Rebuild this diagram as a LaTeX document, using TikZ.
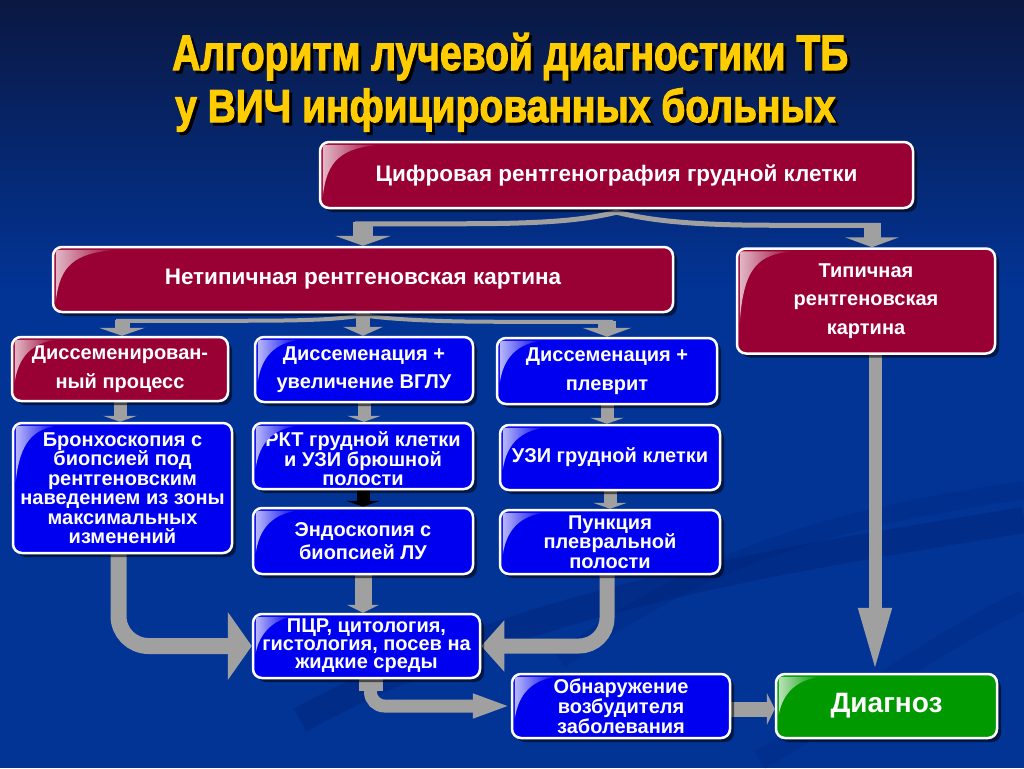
\documentclass[tikz,border=0pt]{standalone}
\usepackage{graphicx}
\usepackage{fontspec}
\setmainfont{Liberation Sans}
\newfontfamily\ttlfont[BoldFeatures={FakeBold=2.5}]{Liberation Sans}
\usetikzlibrary{arrows.meta,calc,shadows}
\definecolor{bgtop}{RGB}{10,24,66}
\definecolor{bgmain}{RGB}{2,52,150}
\definecolor{swoo}{RGB}{0,30,110}
\definecolor{maroonc}{RGB}{153,0,51}
\definecolor{bluec}{RGB}{0,0,240}
\definecolor{greenc}{RGB}{0,153,0}
\definecolor{arrgray}{RGB}{160,160,160}
\definecolor{ttl}{RGB}{255,204,0}
\pgfdeclarelayer{bgl}
\pgfdeclarelayer{arrl}
\pgfsetlayers{bgl,arrl,main}
\tikzset{
  box/.style={draw=white, line width=2.5pt, rounded corners=9pt, text=white, align=center, inner sep=2pt,
    drop shadow={shadow xshift=4pt, shadow yshift=-4pt, draw=none, fill=black, opacity=0.55}},
  mbox/.style={box, fill=maroonc},
  bbox/.style={box, fill=bluec},
  gbox/.style={box, fill=greenc},
  floose/.style={font=\bfseries\fontsize{22.5}{26}\selectfont},
  fmid/.style={font=\bfseries\fontsize{20}{28.5}\selectfont},
  fendo/.style={font=\bfseries\fontsize{20}{23.5}\selectfont},
  ftight/.style={font=\bfseries\fontsize{20}{19.5}\selectfont},
  ftighter/.style={font=\bfseries\fontsize{20}{18}\selectfont},
  fbig/.style={font=\bfseries\fontsize{28}{32}\selectfont},
  garr/.style={draw=arrgray},
  varr/.style={draw=arrgray, line width=13pt, -{Triangle[length=6pt,width=34pt]}},
  ttlstyle/.style={anchor=base west, inner sep=0pt, font=\ttlfont\bfseries},
}
\newcommand\glossy[4]{%
  \shade[left color=white!72!#2, right color=#2]
    ($(#1.north west)+(4,#4)$) -- ($(#1.north west)+(4,11)$)
    .. controls ($(#1.north west)+(4,4)$) .. ($(#1.north west)+(11,4)$)
    -- ($(#1.north west)+(#3,4)$)
    .. controls ($(#1.north west)+(22,7)$) and ($(#1.north west)+(8,20)$) .. ($(#1.north west)+(4,#4)$) -- cycle;}
\newcommand\shadowtext[3]{% width, height, text
  \rlap{\hspace*{3pt}\raisebox{-3pt}{\color{black}\resizebox{#1}{#2}{#3}}}\color{ttl}\resizebox{#1}{#2}{#3}}
\begin{document}
\begin{tikzpicture}[x=1pt,y=-1pt]
\useasboundingbox (0,0) rectangle (1024,768);

% ---------- boxes ----------
\node[mbox, minimum width=593pt, minimum height=66pt, floose] (cif) at (616.5,175) {Цифровая рентгенография грудной клетки};
\node[mbox, minimum width=620pt, minimum height=65pt, floose] (net) at (363,279.5) {Нетипичная рентгеновская картина};
\node[mbox, minimum width=258pt, minimum height=105pt, fmid] (typ) at (866,301) {Типичная\\рентгеновская\\картина};
\node[mbox, minimum width=216pt, minimum height=64pt, fmid] (dis) at (120,369) {Диссеменирован-\\ный процесс};
\node[bbox, minimum width=218pt, minimum height=65pt, fmid] (vglu) at (364,369.5) {Диссеменация +\\увеличение ВГЛУ};
\node[bbox, minimum width=220pt, minimum height=66pt, fmid] (plev) at (607,371) {Диссеменация +\\плеврит};
\node[bbox, minimum width=219pt, minimum height=130pt, ftight] (bron) at (122.5,488) {Бронхоскопия с\\биопсией под\\рентгеновским\\наведением из зоны\\максимальных\\изменений};
\node[bbox, minimum width=220pt, minimum height=66pt, ftight] (rkt) at (363,456) {\rule{0pt}{21pt}РКТ грудной клетки\\и УЗИ брюшной\\полости};
\node[bbox, minimum width=220pt, minimum height=65pt, ftight] (uzi) at (610,457.5) {УЗИ грудной клетки};
\node[bbox, minimum width=220pt, minimum height=66pt, fendo] (endo) at (363,541) {Эндоскопия с\\биопсией ЛУ};
\node[bbox, minimum width=220pt, minimum height=64pt, ftight] (punk) at (610,542) {Пункция\\плевральной\\полости};
\node[bbox, minimum width=227pt, minimum height=64pt, ftighter] (pcr) at (366.5,646) {ПЦР, цитология,\\гистология, посев на\\жидкие среды};
\node[bbox, minimum width=218pt, minimum height=64pt, ftighter] (obn) at (621,706) {Обнаружение\\возбудителя\\заболевания};
\node[gbox, minimum width=221pt, minimum height=64pt, fbig] (diag) at (886.5,706) {Диагноз};

% ---------- gloss ----------
\glossy{cif}{maroonc}{62}{56}
\glossy{net}{maroonc}{66}{56}
\glossy{typ}{maroonc}{58}{75}
\glossy{dis}{maroonc}{46}{46}
\glossy{vglu}{bluec}{46}{46}
\glossy{plev}{bluec}{46}{46}
\glossy{bron}{bluec}{46}{60}
\glossy{rkt}{bluec}{46}{46}
\glossy{uzi}{bluec}{46}{46}
\glossy{endo}{bluec}{46}{46}
\glossy{punk}{bluec}{46}{46}
\glossy{pcr}{bluec}{40}{40}
\glossy{obn}{bluec}{46}{46}
\glossy{diag}{greenc}{46}{42}

% ---------- title ----------
\node[ttlstyle] (title1) at (172,70) {\shadowtext{676pt}{37pt}{Алгоритм лучевой диагностики ТБ}};
\node[ttlstyle] (title2) at (175,122) {\shadowtext{660pt}{34pt}{у ВИЧ инфицированных больных}};

% ---------- background ----------
\begin{pgfonlayer}{bgl}
\fill[bgmain] (0,0) rectangle (1024,768);
\shade[top color=bgtop, bottom color=bgmain] (0,0) rectangle (1024,290);
\draw[swoo, opacity=0.3, line width=26pt] (300,720) .. controls (520,600) and (780,560) .. (1024,520);
\draw[swoo, opacity=0.22, line width=18pt] (560,660) .. controls (700,560) and (820,520) .. (1024,490);
\draw[swoo, opacity=0.22, line width=20pt] (760,760) .. controls (860,700) and (940,640) .. (1024,600);
\end{pgfonlayer}

% ---------- connectors ----------
\begin{pgfonlayer}{arrl}
\coordinate (ta) at ($(net.north)+(0,-24)$);
\coordinate (tb) at ($(typ.north)+(6,-24)$);
\draw[garr, line width=5pt] ($(ta)+(-8,2)$) -- ($(ta)+(100,2)$)
  .. controls ($(ta)+(190,2)$) and ($(cif.south)+(-30,10)$) .. ($(cif.south)+(0,3)$)
  .. controls ($(cif.south)+(30,10)$) and ($(tb)+(-190,2)$) .. ($(tb)+(-100,2)$) -- ($(tb)+(8,2)$);
\draw[garr, line width=20pt, -{Triangle[length=10pt,width=56pt]}] (ta) -- (ta |- net.north);
\draw[garr, line width=17pt, -{Triangle[length=10pt,width=54pt]}] (tb) -- (tb |- typ.north);

\coordinate (sa) at ($(dis.north)+(2,-16)$);
\coordinate (sc) at ($(plev.north)+(0,-16)$);
\draw[garr, line width=4pt] ($(sa)+(-6,1)$) -- ($(sa)+(120,1)$)
  .. controls ($(sa)+(190,1)$) and ($(net.south)+(-25,6)$) .. ($(net.south)+(0,2)$)
  .. controls ($(net.south)+(25,6)$) and ($(sc)+(-170,1)$) .. ($(sc)+(-110,1)$) -- ($(sc)+(6,1)$);
\draw[garr, line width=15pt, -{Triangle[length=8pt,width=46pt]}] (sa) -- (sa |- dis.north);
\draw[garr, line width=14pt, -{Triangle[length=9pt,width=40pt]}] (net.south) -- (net.south |- vglu.north);
\draw[garr, line width=18pt, -{Triangle[length=9pt,width=49pt]}] (sc) -- (sc |- plev.north);

\draw[varr] (dis.south) -- (dis.south |- bron.north);
\draw[varr] (vglu.south) -- (vglu.south |- rkt.north);
\draw[varr, draw=black] (rkt.south) -- (rkt.south |- endo.north);
\draw[varr] (plev.south) -- (plev.south |- uzi.north);
\draw[varr] (uzi.south) -- (uzi.south |- punk.north);
\draw[varr, line width=17pt, -{Triangle[length=8pt,width=32pt]}] (endo.south) -- (endo.south |- pcr.north);

\draw[garr, line width=16pt, rounded corners=30pt, -{Triangle[length=24pt,width=67pt]}]
  ($(bron.south)+(-4,0)$) -- ($(bron.south |- pcr.west)+(-4,0)$) -- (pcr.west);
\draw[garr, line width=15pt, rounded corners=28pt, -{Triangle[length=23pt,width=50pt]}]
  ($(punk.south)+(-3,0)$) -- ($(punk.south |- pcr.east)+(-3,0)$) -- (pcr.east);
\fill[arrgray] ($(pcr.south)+(-8,0)$) rectangle ($(pcr.south)+(16,12)$);
\draw[garr, line width=13pt, rounded corners=14pt, -{Triangle[length=38pt,width=22pt]}]
  ($(pcr.south)+(4,0)$) -- ($(pcr.south |- obn.west)+(4,0)$) -- (obn.west);
\draw[garr, line width=15pt, -{Triangle[length=8pt,width=32pt]}] ($(obn.east)+(0,3)$) -- ($(diag.west)+(0,3)$);
\draw[garr, line width=13pt, -{Triangle[length=65pt,width=30pt]}] ($(typ.south)+(9,0)$) -- ($(typ.south |- diag.north)+(9,0)$);
\end{pgfonlayer}
\end{tikzpicture}
\end{document}
